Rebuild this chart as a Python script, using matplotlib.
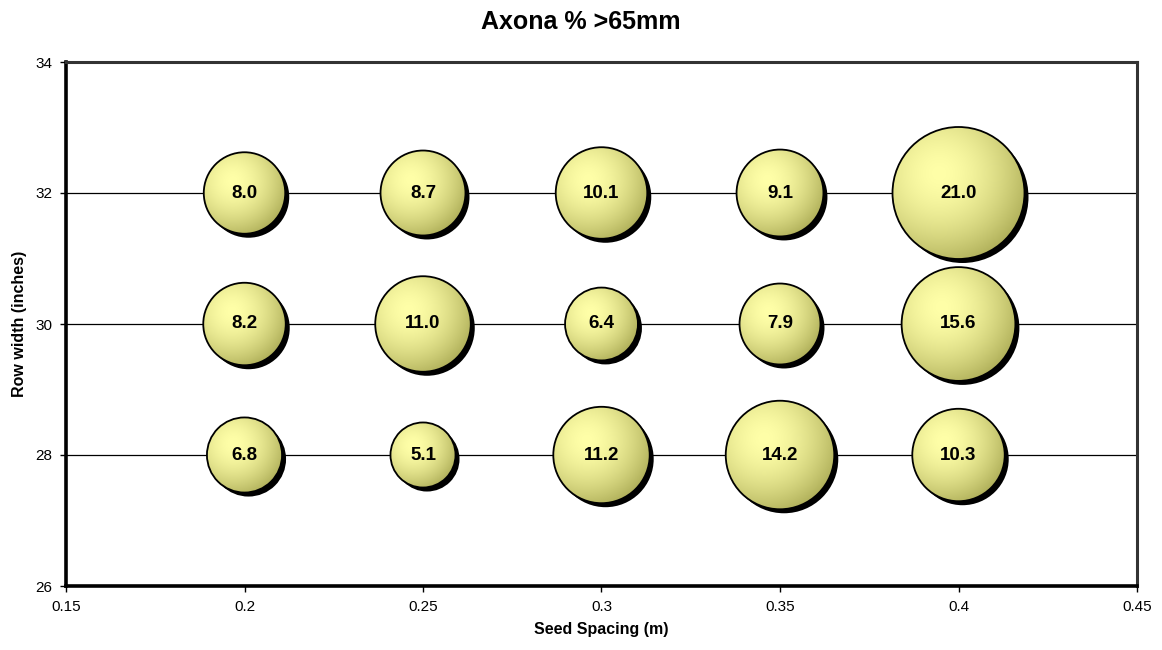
import numpy as np
import matplotlib
matplotlib.use("Agg")
import matplotlib.pyplot as plt
from matplotlib.patches import Ellipse

plt.rcParams['font.family'] = ['Liberation Sans', 'DejaVu Sans']

# Seed spacing (m) and row width (inches)
spacing = [0.2, 0.25, 0.3, 0.35, 0.4]
row_width = [28, 30, 32]

# % tubers > 65mm, one list per row width
pct_28 = [6.8, 5.1, 11.2, 14.2, 10.3]
pct_30 = [8.2, 11.0, 6.4, 7.9, 15.6]
pct_32 = [8.0, 8.7, 10.1, 9.1, 21.0]

W, H, DPI = 1162, 650, 100
XLIM = (0.15, 0.45)
YLIM = (26, 34)
MAX_R_PX = 66  # radius of the largest bubble in pixels
SHADOW_PX = 4

LIGHT = np.array([255, 255, 168]) / 255
DARK = np.array([178, 178, 92]) / 255

fig = plt.figure(figsize=(W / DPI, H / DPI), dpi=DPI)
ax = fig.add_axes([66 / W, 64 / H, 1071 / W, 524 / H])
ax.set_xlim(*XLIM)
ax.set_ylim(*YLIM)

ax_w_px = 1071
ax_h_px = 524
px_x = (XLIM[1] - XLIM[0]) / ax_w_px
px_y = (YLIM[1] - YLIM[0]) / ax_h_px

# radial shading texture, highlight up-left
n = 200
gy, gx = np.mgrid[-1:1:n * 1j, -1:1:n * 1j]
d = np.sqrt((gx + 0.3) ** 2 + (gy + 0.3) ** 2) / 1.4
d = np.clip(d, 0, 1) ** 1.7
shade = LIGHT[None, None, :] * (1 - d[..., None]) + DARK[None, None, :] * d[..., None]

vmax = max(pct_28 + pct_30 + pct_32)
for yv, vals in zip(row_width, [pct_28, pct_30, pct_32]):
    for xv, v in zip(spacing, vals):
        r = MAX_R_PX * np.sqrt(v / vmax)
        rx, ry = r * px_x, r * px_y
        shadow = Ellipse((xv + SHADOW_PX * px_x, yv - SHADOW_PX * px_y), 2 * rx, 2 * ry,
                         facecolor='black', edgecolor='none', zorder=3)
        ax.add_patch(shadow)
        body = Ellipse((xv, yv), 2 * rx, 2 * ry, facecolor='none',
                       edgecolor='black', lw=1.3, zorder=5)
        ax.add_patch(body)
        im = ax.imshow(shade, extent=(xv - rx, xv + rx, yv - ry, yv + ry),
                       origin='upper', zorder=4, aspect='auto', interpolation='bilinear')
        im.set_clip_path(body)
        ax.text(xv, yv, f"{v:.1f}", ha='center', va='center', fontsize=13.5,
                fontweight='bold', zorder=6)

ax.set_xlim(*XLIM)
ax.set_ylim(*YLIM)

ax.set_xticks([0.15, 0.2, 0.25, 0.3, 0.35, 0.4, 0.45])
ax.set_xticklabels(['0.15', '0.2', '0.25', '0.3', '0.35', '0.4', '0.45'])
ax.set_yticks([26, 28, 30, 32, 34])
ax.tick_params(labelsize=11, length=4, width=1, direction='out', pad=6)

for yv in [28, 30, 32]:
    ax.axhline(yv, color='black', lw=0.9, zorder=1)

for s in ['left', 'bottom']:
    ax.spines[s].set_linewidth(2.6)
    ax.spines[s].set_color('black')
for s in ['top', 'right']:
    ax.spines[s].set_linewidth(2.2)
    ax.spines[s].set_color('#333333')

ax.set_xlabel('Seed Spacing (m)', fontsize=11.5, fontweight='bold', labelpad=6)
ax.set_ylabel('Row width (inches)', fontsize=11.5, fontweight='bold', labelpad=6)
fig.text(0.5, 1 - 22 / H, 'Axona % >65mm', ha='center', va='center',
         fontsize=18, fontweight='bold')

fig.savefig('out.png', dpi=DPI)
